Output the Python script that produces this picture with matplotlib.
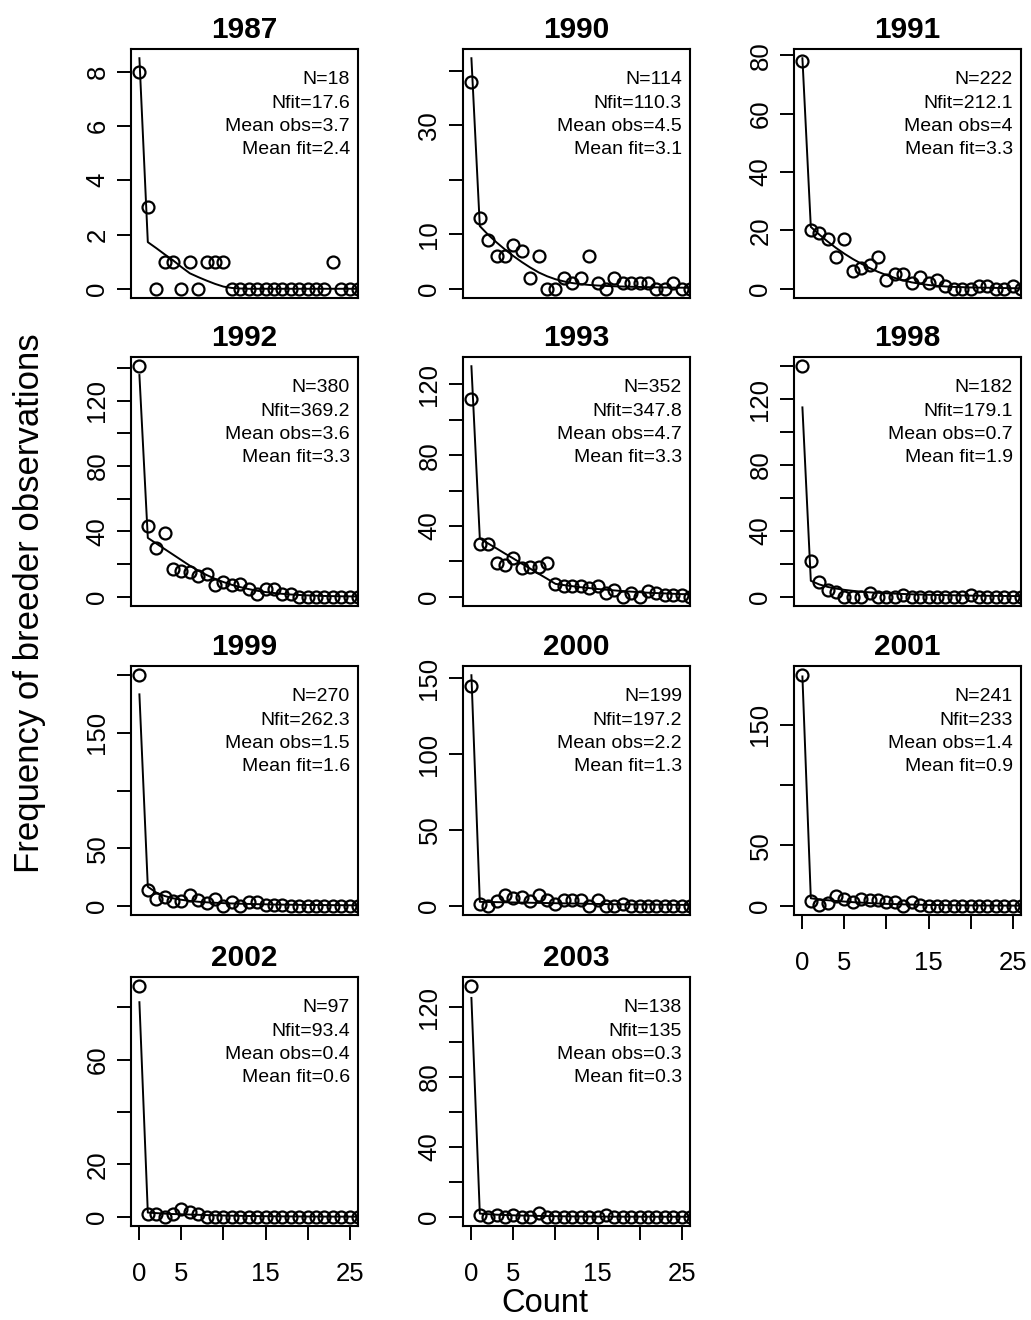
import matplotlib
matplotlib.use('Agg')
import matplotlib.pyplot as plt
import numpy as np

plt.rcParams['font.family'] = 'Liberation Sans'

# Breeder count frequencies per year: observed points and fitted curve
years = ['1987', '1990', '1991', '1992', '1993', '1998', '1999', '2000', '2001', '2002', '2003']
counts = np.arange(27)

obs_1987 = [8, 3, 0, 1, 1, 0, 1, 0, 1, 1, 1, 0, 0, 0, 0, 0, 0, 0, 0, 0, 0, 0, 0, 1, 0, 0, 0]
fit_1987 = [8.5, 1.72, 1.5, 1.27, 1.05, 0.8, 0.57, 0.43, 0.3, 0.18, 0.08, 0.03, 0.01, 0, 0, 0, 0, 0, 0, 0, 0, 0, 0, 0, 0, 0, 0]
obs_1990 = [38, 13, 9, 6, 6, 8, 7, 2, 6, 0, 0, 2, 1, 2, 6, 1, 0, 2, 1, 1, 1, 1, 0, 0, 1, 0, 0]
fit_1990 = [42.3, 11.5, 9.9, 8.5, 7.2, 6.0, 4.9, 3.9, 3.0, 2.3, 1.75, 1.35, 1.05, 0.85, 0.7, 0.6, 0.52, 0.46, 0.41, 0.37, 0.33, 0.3, 0.27, 0.24, 0.22, 0.2, 0.18]
obs_1991 = [78, 20, 19, 17, 11, 17, 6, 7, 8, 11, 3, 5, 5, 2, 4, 2, 3, 1, 0, 0, 0, 1, 1, 0, 0, 1, 0]
fit_1991 = [79, 21.2, 18.6, 16.2, 14.0, 12.0, 10.2, 8.6, 7.1, 5.8, 4.7, 3.7, 2.9, 2.2, 1.7, 1.3, 1.0, 0.8, 0.65, 0.55, 0.45, 0.4, 0.35, 0.3, 0.25, 0.2, 0.2]
obs_1992 = [141, 43, 30, 39, 17, 16, 15, 13, 14, 7, 9, 7, 8, 5, 2, 5, 5, 2, 2, 0, 0, 0, 0, 0, 0, 0, 0]
fit_1992 = [135.6, 36, 32.6, 29.2, 25.8, 22.4, 19, 16, 13.3, 11, 9, 7.3, 5.9, 4.7, 3.7, 2.9, 2.3, 1.8, 1.4, 1.1, 0.85, 0.65, 0.5, 0.4, 0.3, 0.25, 0.2]
obs_1993 = [112, 30, 30, 19, 18, 22, 16, 17, 17, 19, 7, 6, 6, 6, 5, 6, 2, 4, 0, 2, 0, 3, 2, 1, 1, 1, 0]
fit_1993 = [130.3, 33, 30.1, 27.3, 24.4, 21.6, 18.7, 15.9, 13.0, 10.2, 7.3, 6.6, 6.0, 5.4, 4.9, 4.4, 4.0, 3.6, 3.2, 2.9, 2.6, 2.3, 2.1, 1.9, 1.7, 1.5, 1.4]
obs_1998 = [140, 22, 9, 4, 3, 0, 0, 0, 2, 0, 0, 0, 1, 0, 0, 0, 0, 0, 0, 0, 1, 0, 0, 0, 0, 0, 0]
fit_1998 = [115, 9.7, 7.5, 6.0, 5.0, 4.2, 3.6, 3.1, 2.7, 2.4, 2.1, 1.9, 1.7, 1.5, 1.35, 1.2, 1.1, 1.0, 0.9, 0.8, 0.7, 0.65, 0.6, 0.55, 0.5, 0.45, 0.4]
obs_1999 = [200, 14, 6, 8, 4, 4, 9, 5, 2, 6, 0, 3, 0, 3, 3, 1, 1, 1, 0, 0, 0, 0, 0, 0, 0, 0, 0]
fit_1999 = [183.4, 16.5, 11.5, 8.5, 6.5, 5.2, 4.2, 3.5, 3.0, 2.6, 2.3, 2.0, 1.8, 1.6, 1.4, 1.25, 1.1, 1.0, 0.9, 0.8, 0.7, 0.65, 0.6, 0.55, 0.5, 0.45, 0.4]
obs_2000 = [145, 1, 0, 3, 7, 5, 6, 3, 7, 4, 1, 4, 4, 4, 0, 4, 0, 0, 1, 0, 0, 0, 0, 0, 0, 0, 0]
fit_2000 = [152, 2.6, 2.5, 2.4, 2.3, 2.2, 2.1, 2.0, 1.9, 1.8, 1.7, 1.6, 1.5, 1.4, 1.3, 1.2, 1.1, 1.0, 0.95, 0.9, 0.85, 0.8, 0.75, 0.7, 0.65, 0.6, 0.55]
obs_2001 = [191, 4, 1, 2, 8, 6, 3, 6, 5, 5, 3, 3, 0, 3, 1, 0, 0, 0, 0, 0, 0, 0, 0, 0, 0, 0, 0]
fit_2001 = [190, 6.2, 5.3, 4.6, 4.0, 3.5, 3.0, 2.6, 2.2, 1.9, 1.6, 1.4, 1.2, 1.0, 0.85, 0.7, 0.6, 0.5, 0.42, 0.35, 0.3, 0.25, 0.2, 0.17, 0.14, 0.12, 0.1]
obs_2002 = [88, 1, 1, 0, 1, 3, 2, 1, 0, 0, 0, 0, 0, 0, 0, 0, 0, 0, 0, 0, 0, 0, 0, 0, 0, 0, 0]
fit_2002 = [81.9, 1.6, 1.4, 1.2, 1.05, 0.95, 0.85, 0.75, 0.65, 0.55, 0.48, 0.42, 0.36, 0.3, 0.26, 0.22, 0.19, 0.16, 0.14, 0.12, 0.1, 0.09, 0.08, 0.07, 0.06, 0.05, 0.05]
obs_2003 = [132, 1, 0, 1, 0, 1, 0, 0, 2, 0, 0, 0, 0, 0, 0, 0, 1, 0, 0, 0, 0, 0, 0, 0, 0, 0, 0]
fit_2003 = [125.3, 1.8, 1.5, 1.2, 1.0, 0.85, 0.7, 0.6, 0.5, 0.4, 0.33, 0.27, 0.22, 0.18, 0.15, 0.12, 0.1, 0.08, 0.07, 0.06, 0.05, 0.04, 0.03, 0.03, 0.02, 0.02, 0.02]

observed = [obs_1987, obs_1990, obs_1991, obs_1992, obs_1993, obs_1998,
            obs_1999, obs_2000, obs_2001, obs_2002, obs_2003]
fitted = [fit_1987, fit_1990, fit_1991, fit_1992, fit_1993, fit_1998,
          fit_1999, fit_2000, fit_2001, fit_2002, fit_2003]

# summary numbers printed in each panel
n_obs = [18, 114, 222, 380, 352, 182, 270, 199, 241, 97, 138]
n_fit = [17.6, 110.3, 212.1, 369.2, 347.8, 179.1, 262.3, 197.2, 233, 93.4, 135]
mean_obs = [3.7, 4.5, 4, 3.6, 4.7, 0.7, 1.5, 2.2, 1.4, 0.4, 0.3]
mean_fit = [2.4, 3.1, 3.3, 3.3, 3.3, 1.9, 1.6, 1.3, 0.9, 0.6, 0.3]

# y ticks per panel, and which of them get a label
y_ticks = [[0, 2, 4, 6, 8], [0, 10, 20, 30, 40], [0, 20, 40, 60, 80],
           [0, 20, 40, 60, 80, 100, 120, 140], [0, 20, 40, 60, 80, 100, 120],
           [0, 20, 40, 60, 80, 100, 120, 140], [0, 50, 100, 150, 200],
           [0, 50, 100, 150], [0, 50, 100, 150], [0, 20, 40, 60, 80],
           [0, 20, 40, 60, 80, 100, 120]]
y_shown = [[0, 2, 4, 6, 8], [0, 10, 30], [0, 20, 40, 60, 80], [0, 40, 80, 120],
           [0, 40, 80, 120], [0, 40, 80, 120], [0, 50, 150], [0, 50, 100, 150],
           [0, 50, 150], [0, 20, 60], [0, 40, 80, 120]]
x_ticks = [0, 5, 10, 15, 20, 25]
x_shown = [0, 5, 15, 25]

W, H = 1031, 1320
fig = plt.figure(figsize=(W / 100, H / 100), dpi=100)

col_left = [131, 463, 794]
row_top = [49, 357, 666, 977]
box_w, box_h = 227, 249
bottom_panels = [8, 9, 10]

for i, year in enumerate(years):
    r, c = divmod(i, 3)
    ax = fig.add_axes([col_left[c] / W, 1 - (row_top[r] + box_h) / H, box_w / W, box_h / H])
    ax.plot(counts, observed[i], 'o', mfc='none', mec='black', ms=8.6, mew=1.6)
    ax.plot(counts, fitted[i], '-', color='black', lw=1.4)

    # R style limits: 4% padding around the data range
    vals = np.concatenate([observed[i], fitted[i]])
    lo, hi = vals.min(), vals.max()
    pad = 0.04 * (hi - lo)
    ax.set_ylim(lo - pad, hi + pad)
    ax.set_xlim(-1, 26)

    ax.set_yticks(y_ticks[i])
    ax.set_yticklabels([str(t) if t in y_shown[i] else '' for t in y_ticks[i]],
                       rotation=90, va='center')
    ax.tick_params(axis='y', length=10, width=1.4, pad=5.5, labelsize=18.5)
    if i in bottom_panels:
        ax.set_xticks(x_ticks)
        ax.set_xticklabels([str(t) if t in x_shown else '' for t in x_ticks])
        ax.tick_params(axis='x', length=10, width=1.4, pad=16, labelsize=18.5)
    else:
        ax.set_xticks([])
    for s in ax.spines.values():
        s.set_linewidth(1.5)

    ax.set_title(year, fontsize=21.5, fontweight='bold', pad=8)

    lines = ['N=%g' % n_obs[i], 'Nfit=%g' % n_fit[i],
             'Mean obs=%g' % mean_obs[i], 'Mean fit=%g' % mean_fit[i]]
    for k, txt in enumerate(lines):
        ax.annotate(txt, xy=(1, 1), xycoords='axes fraction',
                    xytext=(-5.8, -22.3 - 16.8 * k), textcoords='offset points',
                    ha='right', va='center', fontsize=14)

fig.text(30 / W, 1 - 603 / H, 'Frequency of breeder observations',
         rotation=90, ha='center', va='center', fontsize=25)
fig.text(545 / W, 1 - 1303 / H, 'Count', ha='center', va='center', fontsize=23.5)

fig.savefig('out.png', dpi=100)
